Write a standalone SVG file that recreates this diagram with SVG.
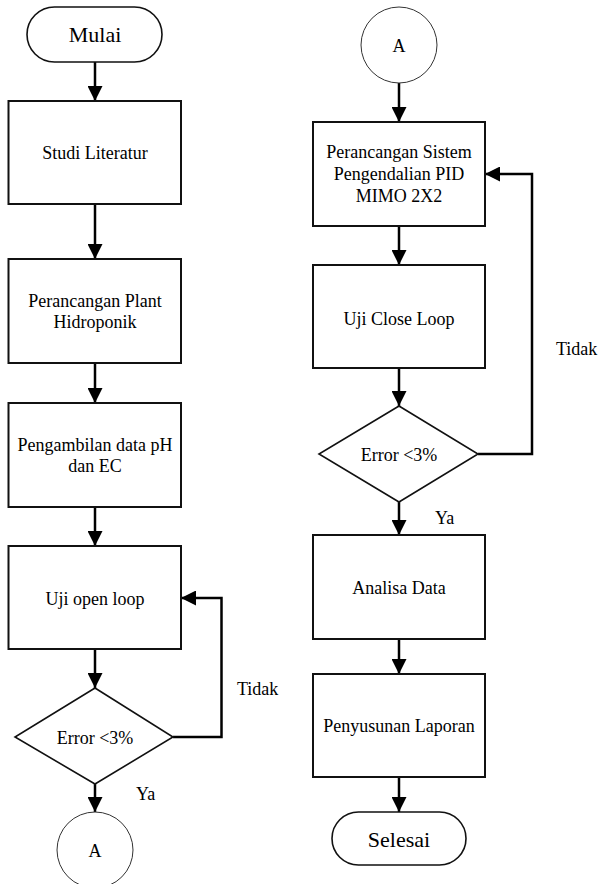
<svg xmlns="http://www.w3.org/2000/svg" width="601" height="884" viewBox="0 0 601 884">
<style>
text{fill:#000;font-size:18px;text-anchor:middle;font-family:'Liberation Serif',serif !important}
.lbl{text-anchor:start}
.big{font-size:22px}
.box{fill:#fff;stroke:#111;stroke-width:2}
.dia{fill:#fff;stroke:#111;stroke-width:1.6}
.circ{fill:#fff;stroke:#333;stroke-width:1}
.term{fill:#fff;stroke:#111;stroke-width:1.6}
.con{fill:none;stroke:#000;stroke-width:2.5;marker-end:url(#ah)}
</style>
<defs>
<marker id="ah" markerUnits="userSpaceOnUse" markerWidth="15" markerHeight="15" refX="15" refY="7.5" orient="auto">
<path d="M0,0 L15,7.5 L0,15 z" fill="#000"/>
</marker>
</defs>
<rect width="601" height="884" fill="#fff"/>
<g id="connectors">
<path class="con" d="M95,62 V101"/>
<path class="con" d="M95,204 V259"/>
<path class="con" d="M95,363 V403"/>
<path class="con" d="M95,507 V546"/>
<path class="con" d="M95,649 V688"/>
<path class="con" d="M173,737 H221.5 V598 H181"/>
<path class="con" d="M95,784 V812"/>
<path class="con" d="M399,83 V122"/>
<path class="con" d="M399,226 V265"/>
<path class="con" d="M399,368 V406"/>
<path class="con" d="M478,454 H532 V174 H485"/>
<path class="con" d="M399,502 V535"/>
<path class="con" d="M399,639 V674"/>
<path class="con" d="M399,777 V812"/>
</g>
<g id="mulai"><rect class="term" x="27" y="7" width="135" height="55" rx="27.5"/><text class="big" style="font-family:'Liberation Serif',serif" x="95" y="42">Mulai</text></g>
<g id="studi"><rect class="box" x="8.5" y="101" width="172.5" height="103"/><text style="font-family:'Liberation Serif',serif" x="95" y="159">Studi Literatur</text></g>
<g id="plant"><rect class="box" x="8.5" y="259" width="172.5" height="104"/><text style="font-family:'Liberation Serif',serif" x="95" y="307">Perancangan Plant</text><text style="font-family:'Liberation Serif',serif" x="95" y="328">Hidroponik</text></g>
<g id="data"><rect class="box" x="8.5" y="403" width="172.5" height="104"/><text style="font-family:'Liberation Serif',serif" x="95" y="451">Pengambilan data pH</text><text style="font-family:'Liberation Serif',serif" x="95" y="472">dan EC</text></g>
<g id="openloop"><rect class="box" x="8.5" y="546" width="172.5" height="103"/><text style="font-family:'Liberation Serif',serif" x="95" y="605">Uji open loop</text></g>
<g id="error1"><polygon class="dia" points="95,688 173,737 95,784 15,737"/><text style="font-family:'Liberation Serif',serif" x="95" y="744">Error &lt;3%</text></g>
<g id="tidak1"><text class="lbl" style="font-family:'Liberation Serif',serif" x="237" y="695">Tidak</text></g>
<g id="ya1"><text class="lbl" style="font-family:'Liberation Serif',serif" x="136" y="800">Ya</text></g>
<g id="a1"><circle class="circ" cx="95" cy="850" r="38"/><text style="font-family:'Liberation Serif',serif" x="95" y="857">A</text></g>
<g id="a2"><circle class="circ" cx="399" cy="45" r="38"/><text style="font-family:'Liberation Serif',serif" x="399" y="52">A</text></g>
<g id="pid"><rect class="box" x="313" y="122" width="172" height="104"/><text style="font-family:'Liberation Serif',serif" x="399" y="158">Perancangan Sistem</text><text style="font-family:'Liberation Serif',serif" x="399" y="180">Pengendalian PID</text><text style="font-family:'Liberation Serif',serif" x="399" y="202">MIMO 2X2</text></g>
<g id="closeloop"><rect class="box" x="313" y="265" width="172" height="103"/><text style="font-family:'Liberation Serif',serif" x="399" y="325">Uji Close Loop</text></g>
<g id="tidak2"><text class="lbl" style="font-family:'Liberation Serif',serif" x="556" y="355">Tidak</text></g>
<g id="error2"><polygon class="dia" points="399,406 478,454 399,502 319,454"/><text style="font-family:'Liberation Serif',serif" x="399" y="461">Error &lt;3%</text></g>
<g id="ya2"><text class="lbl" style="font-family:'Liberation Serif',serif" x="435" y="524">Ya</text></g>
<g id="analisa"><rect class="box" x="313" y="535" width="172" height="104"/><text style="font-family:'Liberation Serif',serif" x="399" y="594">Analisa Data</text></g>
<g id="laporan"><rect class="box" x="313" y="674" width="172" height="103"/><text style="font-family:'Liberation Serif',serif" x="399" y="732">Penyusunan Laporan</text></g>
<g id="selesai"><rect class="term" x="332" y="812" width="134" height="53" rx="26.5"/><text class="big" style="font-family:'Liberation Serif',serif" x="399" y="847">Selesai</text></g>
</svg>
